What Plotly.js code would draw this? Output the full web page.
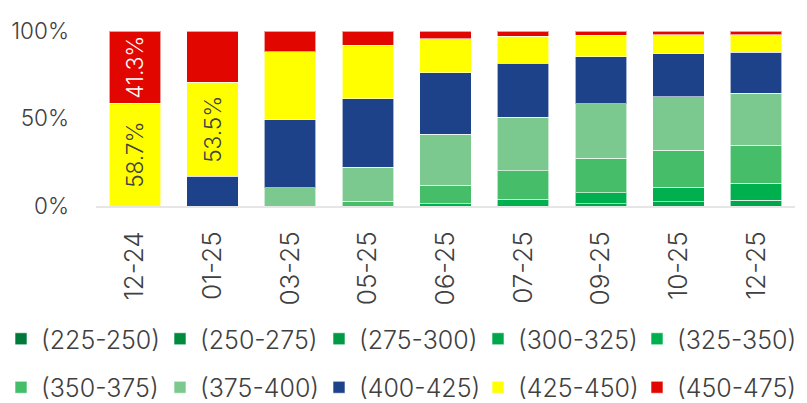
<!DOCTYPE html>
<html>
<head>
<meta charset="utf-8">
<script src="https://cdn.plot.ly/plotly-3.0.1.min.js"></script>
<style>html,body{margin:0;padding:0;background:#fff;}#chart{width:807px;height:403px;}</style>
</head>
<body>
<div id="chart"></div>
<script>
var categories = ['12-24','01-25','03-25','05-25','06-25','07-25','09-25','10-25','12-25'];
var seriesNames = ['(225-250)','(250-275)','(275-300)','(300-325)','(325-350)','(350-375)','(375-400)','(400-425)','(425-450)','(450-475)'];
var s225 = [0,0,0,0,0,0,0,0,0];
var s250 = [0,0,0,0,0,0,0,0,0];
var s275 = [0,0,0,0,0,0,0,0,0];
var s300 = [0,0,0,0,0,0,1.4,2.4,3.2];
var s325 = [0,0,0,0,1.2,3.9,6.3,8.4,9.7];
var s350 = [0,0,0,2.8,10.7,16.3,19.7,21.2,21.7];
var s375 = [0,0,10.4,19.3,29.2,30.5,30.9,30.4,29.8];
var s400 = [0,17.1,39.0,39.1,35.0,30.8,27.0,24.6,23.5];
var s425 = [58.7,53.5,38.7,30.8,19.5,15.4,12.4,10.9,10.0];
var s450 = [41.3,29.4,11.9,8.0,4.4,3.1,2.3,2.1,1.9];
var yTickVals = [0, 50, 100];
var yTickText = ['0%', '50%', '100%'];
var seriesValues = [s225,s250,s275,s300,s325,s350,s375,s400,s425,s450];
var seriesColors = ['#007a3a','#008a3e','#009a44','#00a64a','#00b04f','#45bd69','#7bc98e','#1d428a','#ffff00','#e10600'];
var labelColors = ['#404040','#404040','#404040','#404040','#404040','#404040','#404040','#ffffff','#404040','#ffffff'];

var FONT = 'Inter, "Open Sans", sans-serif';
var W = 807, H = 403;
var legendIds = seriesNames.map(function(_, i){ return i === 0 ? 'legend' : 'legend' + (i + 1); });

var traces = seriesNames.map(function(name, i){
  var vals = seriesValues[i];
  return {
    type: 'bar',
    name: name,
    x: categories,
    y: vals,
    marker: {color: seriesColors[i], line: {color: 'rgba(255,255,255,0.6)', width: 1}},
    text: vals.map(function(v){ return v >= 40 ? v.toFixed(1) + '%' : ''; }),
    textposition: 'inside',
    insidetextanchor: 'middle',
    textangle: -90,
    constraintext: 'none',
    textfont: {family: FONT, size: 22.5, color: labelColors[i], weight: 300},
    hoverinfo: 'skip',
    legend: legendIds[i]
  };
});

var layout = {
  width: W, height: H,
  margin: {l: 96, r: 12, t: 31, b: 197},
  paper_bgcolor: '#ffffff', plot_bgcolor: '#ffffff',
  barmode: 'stack',
  bargap: 0.335,
  showlegend: true,
  font: {family: FONT, color: '#404040', weight: 300},
  xaxis: {
    type: 'category',
    tickangle: -90,
    tickfont: {family: FONT, size: 26, color: '#404040', weight: 300},
    showline: true, linecolor: '#e6e6e6', linewidth: 2,
    showgrid: false, ticks: '', ticklabelstandoff: 13,
    fixedrange: true
  },
  yaxis: {
    range: [0, 100],
    tickmode: 'array',
    tickvals: yTickVals,
    ticktext: yTickText,
    tickfont: {family: FONT, size: 22.5, color: '#404040', weight: 300},
    showgrid: false, zeroline: false, showline: false, ticks: '',
    ticklabelstandoff: 26,
    fixedrange: true
  }
};

// legend layout: two rows of five entries
legendIds.forEach(function(id, i){
  var col = i % 5, row = Math.floor(i / 5);
  layout[id] = {
    orientation: 'h',
    xref: 'container', yref: 'container',
    xanchor: 'left', yanchor: 'middle',
    x: (1 + col * 159) / W,
    y: 1 - (row === 0 ? 339 : 387.5) / H,
    font: {family: FONT, size: 25, color: '#404040', weight: 300},
    bgcolor: 'rgba(0,0,0,0)',
    itemclick: false, itemdoubleclick: false
  };
});

Plotly.newPlot('chart', traces, layout, {displayModeBar: false, staticPlot: true});
</script>
</body>
</html>
